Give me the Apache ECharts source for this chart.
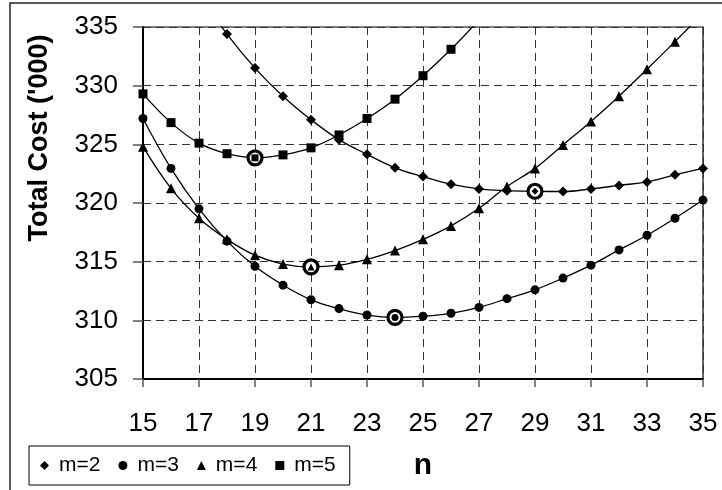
<!DOCTYPE html>
<html>
<head>
<meta charset="utf-8">
<script src="https://cdn.jsdelivr.net/npm/echarts@6/dist/echarts.min.js"></script>
<style>html,body{margin:0;padding:0;background:#fff}#c{width:722px;height:490px}</style>
</head>
<body>
<div id="c"></div>
<script>
var nValues = [15,16,17,18,19,20,21,22,23,24,25,26,27,28,29,30,31,32,33,34,35];
var m2 = [null,null,337.8,334.4,331.5,329.1,327.1,325.4,324.15,323.0,322.25,321.6,321.2,321.05,321.0,320.98,321.2,321.5,321.8,322.4,322.95];
var m3 = [327.2,322.95,319.5,316.75,314.6,313.0,311.75,311.0,310.45,310.25,310.35,310.6,311.1,311.85,312.6,313.6,314.7,316.0,317.25,318.7,320.25];
var m4 = [324.8,321.25,318.7,316.9,315.55,314.8,314.55,314.7,315.2,315.95,316.9,318.05,319.55,321.4,322.95,324.95,326.95,329.1,331.4,333.75,336.2];
var m5 = [329.3,326.85,325.1,324.2,323.85,324.1,324.7,325.8,327.2,328.85,330.85,333.1,335.6,null,null,null,null,null,null,null,null];
var seriesNames = ['m=2','m=3','m=4','m=5'];
var seriesSymbols = ['diamond','circle','triangle','rect'];
var optimumN = [29,24,21,19];
var optimumSeries = [0,1,2,3];
var yTicks = {min:305, max:335, interval:5};
var xTicks = {min:15, max:35, interval:2};

var allValues = [m2,m3,m4,m5];
function pairs(arr){ return nValues.map(function(n,i){ return arr[i]==null ? null : [n, arr[i]]; }).filter(function(p){return p;}); }
var symSizes = [10,9,10,9];
var series = allValues.map(function(arr,k){
  return {
    name: seriesNames[k], type:'line', data: pairs(arr), smooth:0.4, clip:true,
    symbol: seriesSymbols[k], symbolSize: symSizes[k], showSymbol:true,
    lineStyle:{color:'#000', width:1.3}, itemStyle:{color:'#000', opacity:1}, z:3
  };
});
var optData = optimumN.map(function(n,i){ return [n, allValues[optimumSeries[i]][nValues.indexOf(n)]]; });
series.push({
  name:'opt', type:'scatter', z:5,
  data: optData,
  symbol:'circle', symbolSize:14,
  itemStyle:{color:'#fff', borderColor:'#000', borderWidth:3.2, opacity:1}
});
series.push({
  name:'optInner', type:'scatter', z:6,
  data: optData.map(function(p,i){ return {value:p, symbol:seriesSymbols[optimumSeries[i]]}; }),
  symbolSize:7,
  itemStyle:{color:'#000', opacity:1}
});

var chart = echarts.init(document.getElementById('c'), null, {renderer:'canvas'});
chart.setOption({
  backgroundColor:'#fff',
  animation:false,
  grid:{left:143, top:27, right:19, bottom:111, show:true, borderColor:'#000', borderWidth:1.2, backgroundColor:'#fff'},
  xAxis:{type:'value', min:xTicks.min, max:xTicks.max, interval:xTicks.interval,
    axisLine:{show:true, onZero:false, lineStyle:{color:'#000', width:2}},
    axisTick:{show:true, inside:false, length:8, lineStyle:{color:'#555', width:1.5}},
    axisLabel:{margin:32, color:'#000', fontFamily:'Liberation Sans', fontSize:26},
    splitLine:{show:true, lineStyle:{color:'#333', type:[8,5], width:1}}},
  yAxis:{type:'value', min:yTicks.min, max:yTicks.max, interval:yTicks.interval,
    axisLine:{show:true, onZero:false, lineStyle:{color:'#000', width:2}},
    axisTick:{show:true, inside:false, length:10, lineStyle:{color:'#555', width:1.5}},
    axisLabel:{margin:25, color:'#000', fontFamily:'Liberation Sans', fontSize:26},
    splitLine:{show:true, lineStyle:{color:'#333', type:[8,5], width:1}}},
  legend:{
    data: seriesNames.map(function(nm,k){ return {name:nm, icon:seriesSymbols[k]}; }),
    left:29, top:446, orient:'horizontal',
    itemWidth:9, itemHeight:9, itemGap:18,
    padding:[9,14,9,11],
    borderColor:'#000', borderWidth:1,
    textStyle:{color:'#000', fontFamily:'Liberation Sans', fontSize:21, padding:[0,0,0,5]},
    itemStyle:{color:'#000', borderWidth:0}
  },
  graphic:[
    {type:'rect', silent:true, z:-1, shape:{x:10, y:3, width:730, height:500}, style:{fill:'none', stroke:'#222', lineWidth:1.5}},
    {type:'text', silent:true, x:40, y:138, rotation:Math.PI/2, style:{text:"Total Cost ('000)", fontFamily:'Liberation Sans', fontWeight:'bold', fontSize:27, fill:'#000', textAlign:'center', textVerticalAlign:'middle'}},
    {type:'text', silent:true, x:423, y:466, style:{text:'n', fontFamily:'Liberation Sans', fontWeight:'bold', fontSize:30, fill:'#000', textAlign:'center', textVerticalAlign:'middle'}}
  ],
  series: series
});
</script>
</body>
</html>
